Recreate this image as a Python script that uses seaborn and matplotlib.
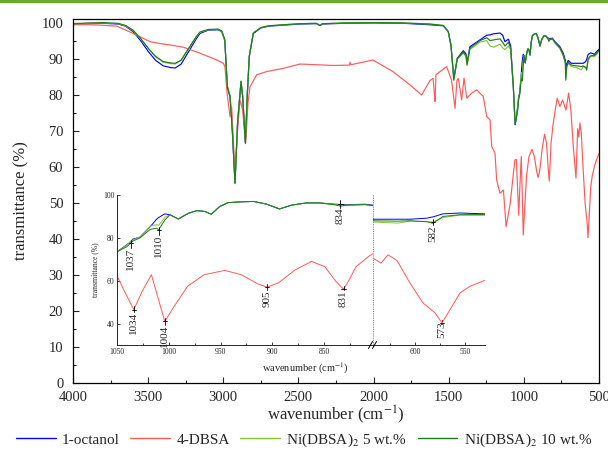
import matplotlib
matplotlib.use("Agg")
import matplotlib.pyplot as plt
from matplotlib.lines import Line2D
from matplotlib.ticker import MultipleLocator
import pandas as pd
import seaborn as sns

# ---------------------------------------------------------------------------
# FTIR spectra (wavenumber in cm^-1, transmittance in %)
# ---------------------------------------------------------------------------
# shared wavenumber grid for 1-octanol and the Ni(DBSA)2 dispersions
wn_oct = [4000, 3900, 3800, 3700, 3650, 3600, 3550, 3500, 3450, 3400,
          3350, 3320, 3280, 3230, 3180, 3155, 3100, 3035, 3010, 2990,
          2973, 2955, 2940, 2922, 2905, 2882, 2871, 2853, 2840, 2827,
          2800, 2750, 2700, 2600, 2490, 2380, 2357, 2340, 2200, 2000,
          1800, 1625, 1536, 1503, 1485, 1466, 1443, 1403, 1385, 1378,
          1359, 1292, 1247, 1225, 1200, 1159, 1141, 1126, 1103, 1088,
          1070, 1058, 1050, 1041, 1037, 1035, 1028, 1018, 1012, 1010,
          1004, 999, 991, 981, 973, 965, 959, 951, 943, 931,
          918, 906, 893, 881, 867, 854, 839, 834, 828, 810,
          793, 760, 738, 724, 721, 715, 705, 684, 650, 617,
          605, 588, 582, 572, 555, 530, 515, 500]

t_octanol = [99.5, 99.7, 99.8, 99.6, 99.0, 97.5, 95.0, 92.0, 89.5, 88.0,
             87.5, 87.4, 88.5, 92.0, 95.5, 97.0, 97.9, 98.0, 97.5, 95.0,
             82.0, 79.4, 70.0, 55.5, 72.0, 83.6, 79.4, 66.6, 80.0, 90.6,
             97.0, 98.5, 99.0, 99.3, 99.6, 99.7, 99.2, 99.6, 99.8, 99.9,
             99.8, 99.4, 99.1, 97.5, 93.8, 84.6, 90.1, 92.2, 91.3, 88.7,
             93.3, 95.2, 96.5, 96.6, 96.9, 97.1, 96.5, 94.7, 95.4, 93.6,
             82.2, 71.6, 73.6, 76.7, 78.2, 79.4, 80.3, 85.3, 88.7, 89.5,
             91.2, 90.8, 88.8, 91.5, 92.7, 92.3, 91.0, 94.6, 96.4, 96.8,
             97.0, 95.8, 93.5, 95.3, 96.3, 96.3, 95.7, 95.6, 95.5, 95.7,
             94.7, 93.3, 91.5, 89.6, 87.5, 88.5, 89.5, 88.7, 88.7, 88.7,
             88.7, 89.2, 89.8, 91.2, 91.6, 91.2, 92.0, 92.6]

t_ni5 = [99.6, 99.8, 99.9, 99.7, 99.1, 97.8, 95.5, 92.8, 90.5, 89.0,
         88.6, 88.5, 89.5, 92.8, 96.0, 97.3, 98.0, 98.1, 97.6, 95.2,
         82.5, 79.8, 70.5, 56.0, 72.5, 83.8, 79.6, 67.0, 80.5, 90.8,
         97.2, 98.6, 99.1, 99.4, 99.7, 99.8, 99.3, 99.7, 99.9, 100.0,
         99.9, 99.6, 99.2, 97.4, 93.5, 84.2, 89.8, 91.5, 90.6, 88.0,
         92.5, 94.6, 95.0, 93.5, 93.2, 94.0, 93.0, 92.5, 93.5, 92.5,
         82.0, 72.0, 73.6, 76.5, 78.5, 79.0, 80.5, 85.5, 86.2, 85.8,
         89.5, 90.8, 88.8, 91.5, 92.7, 92.3, 91.0, 94.6, 96.4, 96.8,
         97.0, 95.8, 93.5, 95.3, 96.3, 96.3, 95.5, 95.2, 95.3, 95.5,
         94.3, 92.8, 90.8, 88.8, 84.5, 87.5, 88.7, 87.8, 87.5, 86.9,
         87.8, 87.6, 87.4, 89.5, 90.6, 90.5, 91.2, 92.2]

t_ni10 = [99.7, 99.9, 100.0, 99.8, 99.2, 97.9, 95.6, 92.9, 90.6, 89.2,
          88.8, 88.7, 89.6, 92.9, 96.1, 97.4, 98.1, 98.2, 97.7, 95.3,
          82.2, 79.5, 70.2, 55.3, 72.2, 83.7, 79.5, 66.4, 80.2, 90.7,
          97.1, 98.6, 99.1, 99.4, 99.7, 99.8, 99.2, 99.7, 99.9, 100.0,
          99.9, 99.6, 99.2, 97.5, 93.6, 84.0, 90.0, 91.8, 90.9, 88.4,
          92.9, 95.0, 95.8, 95.0, 95.2, 95.5, 94.5, 93.5, 94.5, 93.0,
          82.0, 71.8, 73.6, 75.8, 77.5, 78.5, 80.0, 84.0, 84.5, 83.8,
          88.3, 90.8, 88.8, 91.5, 92.7, 92.3, 91.0, 94.6, 96.4, 96.8,
          97.0, 95.8, 93.5, 95.3, 96.3, 96.3, 95.4, 94.8, 95.2, 95.5,
          94.5, 93.0, 91.0, 89.0, 84.0, 87.8, 89.0, 88.2, 88.0, 87.8,
          88.0, 87.5, 86.8, 90.0, 90.8, 90.9, 91.5, 92.4]

# 4-dodecylbenzenesulfonic acid
wn_dbsa = [4000, 3900, 3820, 3707, 3600, 3488, 3421, 3268, 3155, 3042,
           3000, 2989, 2975, 2955, 2944, 2922, 2905, 2889, 2871, 2851,
           2835, 2822, 2778, 2711, 2600, 2490, 2270, 2160, 2157, 2150,
           2004, 1871, 1758, 1680, 1625, 1604, 1595, 1591, 1585, 1514,
           1481, 1458, 1445, 1436, 1414, 1398, 1380, 1347, 1314, 1292,
           1270, 1247, 1225, 1214, 1192, 1181, 1159, 1136, 1118, 1092,
           1070, 1059, 1050, 1042, 1034, 1026, 1017, 1010, 1004, 995,
           982, 966, 946, 930, 914, 905, 894, 878, 862, 849,
           839, 831, 826, 819, 806, 790, 778, 760, 742, 720,
           702, 687, 670, 653, 642, 634, 627, 618, 605, 592,
           580, 573, 563, 555, 545, 530, 515, 500]

t_dbsa = [99.4, 99.4, 99.3, 99.0, 97.0, 94.7, 94.2, 93.2, 91.5, 89.6,
          88.7, 87.8, 80.5, 73.9, 76.5, 58.0, 70.0, 78.5, 75.7, 66.6,
          78.0, 82.2, 85.5, 86.4, 87.3, 88.5, 88.1, 88.2, 89.0, 88.3,
          89.6, 86.4, 82.7, 79.9, 83.9, 84.5, 80.0, 78.1, 85.5, 87.8,
          84.0, 76.2, 84.0, 84.5, 78.5, 84.6, 79.0, 80.4, 81.3, 80.4,
          79.5, 73.9, 73.0, 65.6, 63.8, 56.3, 52.6, 53.5, 43.3, 49.4,
          58.0, 61.9, 62.0, 54.0, 46.5, 55.0, 62.8, 51.0, 41.0, 48.0,
          57.4, 62.8, 64.8, 62.8, 58.5, 57.0, 59.0, 65.0, 69.0, 66.5,
          60.0, 56.0, 60.0, 66.5, 71.6, 76.0, 79.0, 76.7, 78.5, 75.7,
          80.4, 75.7, 65.0, 56.8, 70.5, 68.2, 72.1, 69.4, 58.9, 49.6,
          45.0, 40.3, 48.0, 54.3, 57.4, 60.2, 62.0, 63.7]

sample_names = ["1-octanol", "4-DBSA", "Ni(DBSA)$_2$ 5 wt.%", "Ni(DBSA)$_2$ 10 wt.%"]
sample_colors = ["#0000ff", "#ff5a5a", "#86c440", "#1e7d1e"]

# band labels inside the zoomed panels: (text, wavenumber, band T, text top T)
band_labels = [("1037", 1037, 77.5, 75.5), ("1010", 1010, 83.8, 81.5),
               ("834", 834, 96.0, 94.0), ("1034", 1034, 46.5, 45.5),
               ("1004", 1004, 41.0, 39.5), ("905", 905, 57.0, 55.5),
               ("831", 831, 56.0, 55.5), ("582", 582, 87.4, 86.0),
               ("573", 573, 40.3, 41.0)]

# ---------------------------------------------------------------------------
frames = [pd.DataFrame({"wn": wn_oct, "T": t_octanol, "sample": sample_names[0]}),
          pd.DataFrame({"wn": wn_dbsa, "T": t_dbsa, "sample": sample_names[1]}),
          pd.DataFrame({"wn": wn_oct, "T": t_ni5, "sample": sample_names[2]}),
          pd.DataFrame({"wn": wn_oct, "T": t_ni10, "sample": sample_names[3]})]
spectra = pd.concat(frames, ignore_index=True)
palette = dict(zip(sample_names, sample_colors))

sns.set_style("ticks")
plt.rcParams["font.family"] = ["Liberation Serif", "DejaVu Serif"]
plt.rcParams["mathtext.fontset"] = "stix"
plt.rcParams["xtick.direction"] = "in"
plt.rcParams["ytick.direction"] = "in"

W, H = 608, 457
fig = plt.figure(figsize=(W / 100, H / 100), dpi=100)


def draw_spectra(ax, lw):
    sns.lineplot(data=spectra, x="wn", y="T", hue="sample", palette=palette,
                 hue_order=sample_names, sort=False, estimator=None,
                 legend=False, ax=ax, linewidth=lw)


# main panel
ax = fig.add_axes([73 / W, 1 - 382.7 / H, (599 - 73) / W, (382.7 - 19) / H])
draw_spectra(ax, 0.85)
ax.set_xlim(4000, 500)
ax.set_ylim(0, 101)
ax.xaxis.set_major_locator(MultipleLocator(500))
ax.xaxis.set_minor_locator(MultipleLocator(250))
ax.yaxis.set_major_locator(MultipleLocator(10))
ax.yaxis.set_minor_locator(MultipleLocator(5))
ax.tick_params(which="major", length=4.5, width=0.8, labelsize=10.5, pad=6)
ax.tick_params(axis="y", which="major", pad=7)
ax.tick_params(which="minor", length=2.5, width=0.8)
ax.set_xlabel("wavenumber (cm$^{-1}$)", fontsize=12, labelpad=0)
ax.set_ylabel("transmittance (%)", fontsize=12, labelpad=9)
for s in ax.spines.values():
    s.set_linewidth(0.9)
    s.set_color("black")

# zoomed inset: 1050-800 and 640-530 cm^-1 with a broken axis
y0, y1 = 1 - 345 / H, 150 / H
ax_l = fig.add_axes([117.3 / W, y0, (373 - 117.3) / W, y1])
ax_r = fig.add_axes([373 / W, y0, (485 - 373) / W, y1])
for a in (ax_l, ax_r):
    a.patch.set_alpha(0)
    draw_spectra(a, 0.7)
    a.set_ylim(30, 100)
    a.set_xlabel("")
    a.set_ylabel("")
    a.spines["top"].set_visible(False)
    a.spines["right"].set_visible(False)
    a.tick_params(which="major", length=2.5, width=0.6, labelsize=5.5, pad=2)
    a.tick_params(which="minor", length=1.5, width=0.6)
    for s in a.spines.values():
        s.set_linewidth(0.7)
ax_l.set_xlim(1050, 802.5)
ax_l.xaxis.set_major_locator(MultipleLocator(50))
ax_l.xaxis.set_minor_locator(MultipleLocator(25))
ax_l.yaxis.set_major_locator(MultipleLocator(20))
ax_l.set_ylabel("transmittance (%)", fontsize=5.5, labelpad=3)
ax_r.set_xlim(642, 530)
ax_r.xaxis.set_major_locator(MultipleLocator(50))
ax_r.xaxis.set_minor_locator(MultipleLocator(25))
ax_r.spines["left"].set_visible(False)
ax_r.set_yticks([])
ax_l.axvline(802.5, ymin=0, ymax=1, color="#888888", ls=(0, (1, 1)),
             lw=0.8, clip_on=False)
fig.text(305 / W, 1 - 368 / H, "wavenumber (cm$^{-1}$)", fontsize=7.5,
         ha="center", va="center")

# break marks on the inset's wavenumber axis
bx, by = 373 / W, 1 - 345 / H
for dx in (-2.5, 1.5):
    fig.add_artist(Line2D([bx + (dx - 2) / W, bx + (dx + 2) / W],
                          [by - 3.5 / H, by + 3.5 / H], color="black", lw=0.7))

# band assignments
for text, wn, t_band, t_top in band_labels:
    a = ax_r if wn < 700 else ax_l
    a.plot([wn, wn], [t_top, t_band + 1.5], color="black", lw=0.6)
    a.plot([wn - 2.0, wn + 2.0], [t_band, t_band], color="black", lw=0.6)
    a.text(wn, t_top, text, rotation=90, fontsize=8, ha="center", va="top")

# legend below the axis title
handles = [Line2D([], [], color=c, lw=1.0) for c in sample_colors]
fig.legend(handles, sample_names, loc="center", bbox_to_anchor=(0.5, 1 - 440 / H),
           ncol=4, frameon=False, fontsize=11, handlelength=2.6,
           handletextpad=0.4, columnspacing=0.7, borderaxespad=0, borderpad=0)

# green rule along the top edge
fig.add_artist(Line2D([0, 1], [1 - 1 / H, 1 - 1 / H], color="#6aaa32", lw=2.5))

fig.savefig("out.png", dpi=100)
